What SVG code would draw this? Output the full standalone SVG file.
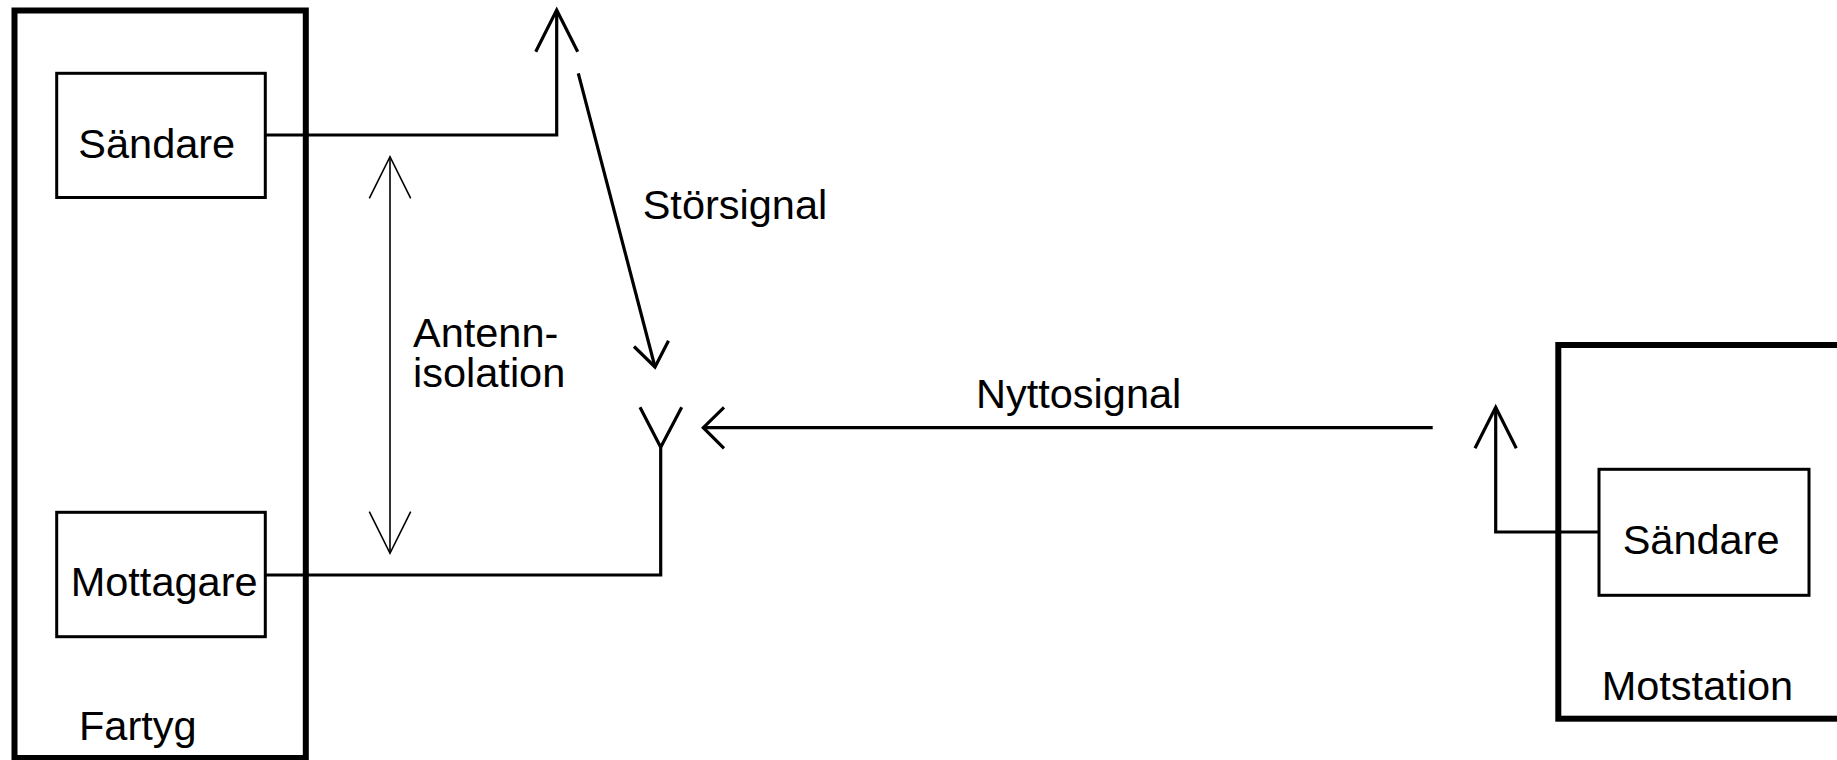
<svg xmlns="http://www.w3.org/2000/svg" width="1837" height="760" viewBox="0 0 1837 760">
  <style>
    .frame { fill: none; stroke: #000; stroke-width: 6; }
    .box { fill: none; stroke: #000; stroke-width: 3; }
    .wire { fill: none; stroke: #000; stroke-width: 3.2; stroke-linecap: butt; stroke-linejoin: miter; }
    .thin { fill: none; stroke: #000; stroke-width: 1.6; }
    .lbl { font-family: "Liberation Sans", Arial, sans-serif; font-size: 41.5px; fill: #000; }
  </style>
  <rect width="1837" height="760" fill="#fff"/>

  <!-- ship enclosure -->
  <g id="fartyg">
    <rect class="frame" x="14.5" y="10.5" width="291.3" height="747.5"/>
    <text class="lbl" x="79" y="740">Fartyg</text>
  </g>

  <!-- ship transmitter -->
  <g id="sandare-fartyg">
    <rect class="box" x="56.7" y="73.3" width="208.6" height="124.2"/>
    <text class="lbl" x="78.3" y="158.3">Sändare</text>
  </g>

  <!-- ship receiver -->
  <g id="mottagare">
    <rect class="box" x="56.7" y="512.3" width="208.6" height="124.4"/>
    <text class="lbl" x="70.7" y="596">Mottagare</text>
  </g>

  <!-- remote station enclosure -->
  <g id="motstation">
    <rect class="frame" x="1558.3" y="345" width="300" height="373.7" stroke-width="6.5"/>
    <text class="lbl" x="1601.7" y="700">Motstation</text>
  </g>

  <!-- remote transmitter -->
  <g id="sandare-motstation">
    <rect class="box" x="1599" y="469.3" width="210" height="126"/>
    <text class="lbl" x="1622.7" y="554.3">Sändare</text>
  </g>

  <!-- free-standing labels -->
  <g id="labels">
    <text class="lbl" x="642.7" y="219.3">Störsignal</text>
    <text class="lbl" x="413" y="346.7"><tspan x="413" y="346.7">Antenn-</tspan><tspan x="413" y="386.7">isolation</tspan></text>
    <text class="lbl" x="976" y="408.3">Nyttosignal</text>
  </g>

  <g id="connectors">
    <!-- transmitter feed and its antenna -->
    <polyline class="wire" points="265.3,135 556.7,135 556.7,10"/>
    <polyline class="wire" points="535.7,51.7 556.7,10 577.7,51.7"/>

    <!-- interference path towards the receiving antenna -->
    <line class="wire" x1="578.3" y1="73.3" x2="655" y2="367"/>
    <polyline class="wire" points="634,346.5 655,367 668.5,340.8"/>

    <!-- receiving antenna and feed -->
    <polyline class="wire" points="640,407.3 660.7,447.3 681.7,407.3"/>
    <polyline class="wire" points="265.3,575 660.7,575 660.7,447.3"/>

    <!-- wanted signal -->
    <line class="wire" x1="703.3" y1="427.7" x2="1432.7" y2="427.7"/>
    <polyline class="wire" points="724,407.3 703.3,427.7 724,448.3"/>

    <!-- remote transmitter feed and antenna -->
    <polyline class="wire" points="1599,532 1495.7,532 1495.7,407.3"/>
    <polyline class="wire" points="1475,448.3 1495.7,407.3 1516.3,448.3"/>

    <!-- antenna isolation span -->
    <line class="thin" x1="390" y1="156.7" x2="390" y2="553.3"/>
    <polyline class="thin" points="369.3,198.3 390,156.7 410.7,198.3"/>
    <polyline class="thin" points="369.3,511.7 390,553.3 410.7,511.7"/>
  </g>
</svg>
